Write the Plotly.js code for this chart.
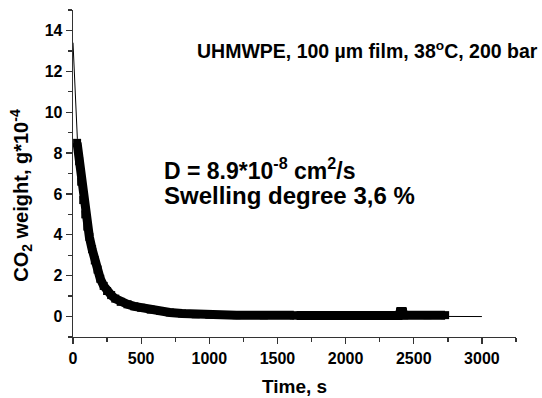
<!DOCTYPE html>
<html>
<head>
<meta charset="utf-8">
<script src="https://cdn.plot.ly/plotly-3.0.1.min.js"></script>
<style>html,body{margin:0;padding:0;background:#fff;}#chart{width:542px;height:398px;}</style>
</head>
<body>
<div id="chart"></div>
<script>
// Measured CO2 weight (g*10^-4) vs time (s)
var timeData = [30,45,60,75,90,105,120,140,160,180,200,225,250,280,310,350,400,450,500,570,640,710,800,900,1000,1200,1400,1620,1630,1640,1800,2000,2200,2390,2400,2420,2430,2600,2730];
var weightData = [8.5,7.6,6.6,5.7,5.0,4.4,3.9,3.3,2.75,2.3,1.85,1.5,1.25,1.05,0.88,0.72,0.6,0.5,0.43,0.34,0.27,0.2,0.15,0.11,0.09,0.07,0.06,0.06,null,0.05,0.05,0.05,0.05,0.05,0.25,0.25,0.06,0.07,0.07];
// Diffusion model fit
var fitTime = [0,8,16,24,32,45,60,75,90,105,120,140,160,180,200,225,250,280,310,350,400,450,500,570,640,710,800,900,1000,1200,1500,2000,2500,3000];
var fitWeight = [13.4,12.0,10.7,9.6,8.7,7.6,6.6,5.7,5.0,4.4,3.9,3.3,2.75,2.3,1.85,1.5,1.25,1.05,0.88,0.72,0.6,0.5,0.43,0.34,0.27,0.2,0.15,0.11,0.08,0.05,0.03,0.02,0.01,0.0];
var xTickVals = [0,500,1000,1500,2000,2500,3000];
var yTickVals = [0,2,4,6,8,10,12,14];

var FONT = 'Liberation Sans, Arial, sans-serif';
var traces = [
  {x: timeData, y: weightData, type: 'scatter', mode: 'lines+markers',
   line: {color: '#000', width: 9}, marker: {symbol: 'square', size: 8, color: '#000'},
   connectgaps: false, hoverinfo: 'skip'},
  {x: fitTime, y: fitWeight, type: 'scatter', mode: 'lines',
   line: {color: '#000', width: 1}, hoverinfo: 'skip'}
];
var axisCommon = {
  showline: true, linecolor: '#333', linewidth: 1.3, mirror: false,
  ticks: 'outside', ticklen: 6, tickwidth: 1.3, tickcolor: '#333',
  showgrid: false, zeroline: false,
  tickfont: {family: FONT, size: 16, color: '#000', weight: 'bold'}
};
var layout = {
  width: 542, height: 398,
  margin: {l: 72.5, r: 26, t: 10, b: 61},
  paper_bgcolor: '#fff', plot_bgcolor: '#fff',
  showlegend: false,
  xaxis: Object.assign({}, axisCommon, {
    range: [0, 3250], tickmode: 'array', tickvals: xTickVals,
    minor: {dtick: 250, ticklen: 3.5, tickwidth: 1.3, tickcolor: '#333', ticks: 'outside'}
  }),
  yaxis: Object.assign({}, axisCommon, {
    range: [-1, 15], tickmode: 'array', tickvals: yTickVals,
    minor: {dtick: 1, ticklen: 3.5, tickwidth: 1.3, tickcolor: '#333', ticks: 'outside'}
  }),
  annotations: [
    {xref: 'paper', yref: 'paper', x: 0.5, y: -0.15, xanchor: 'center', yanchor: 'middle',
     text: '<b>Time, s</b>', showarrow: false, font: {family: FONT, size: 19, color: '#000'}},
    {xref: 'paper', yref: 'paper', x: -0.118, y: 0.434, xanchor: 'center', yanchor: 'middle', textangle: -90,
     text: '<b>CO<sub>2</sub> weight, g*10<sup>-4</sup></b>', showarrow: false, font: {family: FONT, size: 20, color: '#000'}},
    {xref: 'paper', yref: 'paper', x: 0.275, y: 0.878, xanchor: 'left', yanchor: 'middle',
     text: '<b>UHMWPE, 100 µm film, 38<sup>o</sup>C, 200 bar</b>', showarrow: false, font: {family: FONT, size: 19.5, color: '#000'}},
    {xref: 'paper', yref: 'paper', x: 0.202, y: 0.515, xanchor: 'left', yanchor: 'middle',
     text: '<b>D = 8.9*10<sup>-8</sup> cm<sup>2</sup>/s</b>', showarrow: false, font: {family: FONT, size: 23, color: '#000'}},
    {xref: 'paper', yref: 'paper', x: 0.202, y: 0.432, xanchor: 'left', yanchor: 'middle',
     text: '<b>Swelling degree 3,6 %</b>', showarrow: false, font: {family: FONT, size: 24, color: '#000'}}
  ]
};
Plotly.newPlot('chart', traces, layout, {displayModeBar: false, staticPlot: true});
</script>
</body>
</html>
